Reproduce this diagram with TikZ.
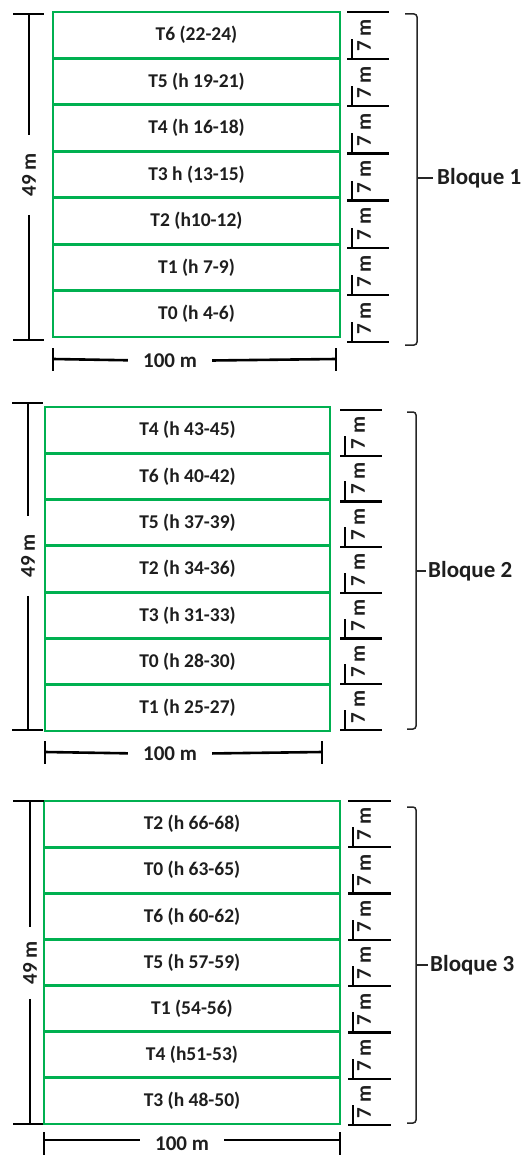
\documentclass[tikz,border=0pt]{standalone}
\usepackage{fontspec}
\setmainfont{Carlito}
\definecolor{offgreen}{HTML}{00B050}
\definecolor{ink}{HTML}{1E1E1E}
\tikzset{
  cell/.style={draw=offgreen, line width=2.8pt, inner sep=0pt, outer sep=0pt, text=ink, font=\fontsize{19.5}{22}\selectfont\bfseries},
  dim/.style={draw=black, line width=2.6pt},
  dimlab/.style={font=\fontsize{21}{24}\selectfont\bfseries, text=ink, inner ysep=1pt, inner xsep=15pt},
  seglab/.style={font=\fontsize{21}{24}\selectfont\bfseries, text=ink, rotate=90, inner sep=0pt},
  brace/.style={draw=black!85, line width=1.5pt},
  bloque/.style={font=\fontsize{23}{26}\selectfont\bfseries, text=ink, anchor=west, inner sep=0pt},
}
% id, L, R, T, B, labels
\newcommand\mkblock[6]{%
  \pgfmathsetmacro\bw{#3-#2}%
  \pgfmathsetmacro\bh{(#5-#4)/7}%
  \pgfmathsetmacro\bcx{(#2+#3)/2}%
  \foreach \lab [count=\i] in {#6} {%
    \pgfmathsetmacro\cy{#4+(\i-0.5)*\bh}%
    \node[cell, minimum width=\bw pt, minimum height=\bh pt] (#1c\i) at (\bcx,\cy) {\lab};
  }%
}
% id, top tick, bottom tick, x left, x right, text x
\newcommand\mkseg[6]{%
  \pgfmathsetmacro\sh{(#3-#2)/7}%
  \foreach \k in {0,...,7} {%
    \pgfmathsetmacro\ty{#2+\k*\sh}%
    \coordinate (#1t\k) at (#4,\ty);
    \draw[dim, line width=2.4pt] (#1t\k) -- ++({#5-#4},0);
  }%
  \foreach \k in {1,...,7} {%
    \pgfmathsetmacro\ty{#2+(\k-0.5)*\sh}%
    \node[seglab] (#1s\k) at (#6,\ty) {7 m};
    \draw[dim, line width=2.4pt] ([xshift=5pt]#1t\k) -- ++(0,-20);
  }%
}
\begin{document}
\begin{tikzpicture}[x=1pt,y=-1pt]
\useasboundingbox (0,0) rectangle (526,1155);

% ---------------- Block 1 ----------------
\mkblock{b1}{53}{340}{12}{337}{T6 (22-24),T5 (h 19-21),T4 (h 16-18),T3 h (13-15),T2 (h10-12),T1 (h 7-9),T0 (h 4-6)}
\coordinate (b1lt) at (29,14);
\coordinate (b1lb) at (29,340);
\node[dimlab, rotate=90, inner xsep=18pt] (b1l) at (29,175) {49 m};
\draw[dim] (b1lt) -- (b1l);
\draw[dim] (b1l) -- (b1lb);
\draw[dim] ([xshift=-16pt]b1lt) -- ([xshift=15pt]b1lt);
\draw[dim] ([xshift=-16pt]b1lb) -- ([xshift=15pt]b1lb);
\coordinate (b1bl) at (53,359);
\coordinate (b1br) at (336,359);
\node[dimlab] (b1b) at (170,361) {100 m};
\draw[dim] (b1bl) -- (b1b);
\draw[dim] (b1b) -- (b1br);
\draw[dim] ([yshift=11pt]b1bl) -- ([yshift=-12pt]b1bl);
\draw[dim] ([yshift=11pt]b1br) -- ([yshift=-12pt]b1br);
\mkseg{b1r}{12}{342}{347}{389}{364}
\coordinate (b1k1) at (405,14);
\coordinate (b1k2) at (417,14);
\coordinate (b1k3) at (417,345);
\coordinate (b1k4) at (405,345);
\coordinate (b1km) at (417,178);
\draw[brace, rounded corners=3pt] (b1k1) -- (b1k2) -- (b1k3) -- (b1k4);
\node[bloque] (b1name) at (437,178) {Bloque 1};
\draw[brace] (b1km) -- ([xshift=-4pt]b1name.west);

% ---------------- Block 2 ----------------
\mkblock{b2}{45}{330}{407}{731}{T4 (h 43-45),T6 (h 40-42),T5 (h 37-39),T2 (h 34-36),T3 (h 31-33),T0 (h 28-30),T1 (h 25-27)}
\coordinate (b2lt) at (28,403);
\coordinate (b2lb) at (28,730);
\node[dimlab, rotate=90, inner xsep=18pt] (b2l) at (28,556) {49 m};
\draw[dim] (b2lt) -- (b2l);
\draw[dim] (b2l) -- (b2lb);
\draw[dim] ([xshift=-16pt]b2lt) -- ([xshift=15pt]b2lt);
\draw[dim] ([xshift=-16pt]b2lb) -- ([xshift=15pt]b2lb);
\coordinate (b2bl) at (45,752);
\coordinate (b2br) at (322,752);
\node[dimlab] (b2b) at (170,754) {100 m};
\draw[dim] (b2bl) -- (b2b);
\draw[dim] (b2b) -- (b2br);
\draw[dim] ([yshift=11pt]b2bl) -- ([yshift=-12pt]b2bl);
\draw[dim] ([yshift=11pt]b2br) -- ([yshift=-12pt]b2br);
\mkseg{b2r}{410}{730}{340}{382}{358}
\coordinate (b2k1) at (407,412);
\coordinate (b2k2) at (416,412);
\coordinate (b2k3) at (416,729);
\coordinate (b2k4) at (407,729);
\coordinate (b2km) at (416,571);
\draw[brace, rounded corners=3pt] (b2k1) -- (b2k2) -- (b2k3) -- (b2k4);
\node[bloque] (b2name) at (428,571) {Bloque 2};
\draw[brace] (b2km) -- ([xshift=-2pt]b2name.west);

% ---------------- Block 3 ----------------
\mkblock{b3}{44}{340}{801}{1124}{T2 (h 66-68),T0 (h 63-65),T6 (h 60-62),T5 (h 57-59),T1 (54-56),T4 (h51-53),T3 (h 48-50)}
\coordinate (b3lt) at (30,801);
\coordinate (b3lb) at (30,1124);
\node[dimlab, rotate=90, inner xsep=14pt] (b3l) at (30,963) {49 m};
\draw[dim] (b3lt) -- (b3l);
\draw[dim] (b3l) -- (b3lb);
\draw[dim] ([xshift=-17pt]b3lt) -- ([xshift=14pt]b3lt);
\draw[dim] ([xshift=-17pt]b3lb) -- ([xshift=13pt]b3lb);
\coordinate (b3bl) at (44,1140);
\coordinate (b3br) at (340,1140);
\node[dimlab, inner ysep=0pt] (b3b) at (182,1144) {100 m};
\draw[dim] (b3bl) -- (b3bl -| b3b.west);
\draw[dim] (b3bl -| b3b.east) -- (b3br);
\draw[dim] ([yshift=8pt]b3bl) -- ([yshift=-15pt]b3bl);
\draw[dim] ([yshift=8pt]b3br) -- ([yshift=-15pt]b3br);
\mkseg{b3r}{801}{1125}{348}{391}{364}
\coordinate (b3k1) at (407,807);
\coordinate (b3k2) at (416,807);
\coordinate (b3k3) at (416,1123);
\coordinate (b3k4) at (407,1123);
\coordinate (b3km) at (416,965);
\draw[brace, rounded corners=3pt] (b3k1) -- (b3k2) -- (b3k3) -- (b3k4);
\node[bloque] (b3name) at (430,965) {Bloque 3};
\draw[brace] (b3km) -- ([xshift=-2pt]b3name.west);
\end{tikzpicture}
\end{document}
